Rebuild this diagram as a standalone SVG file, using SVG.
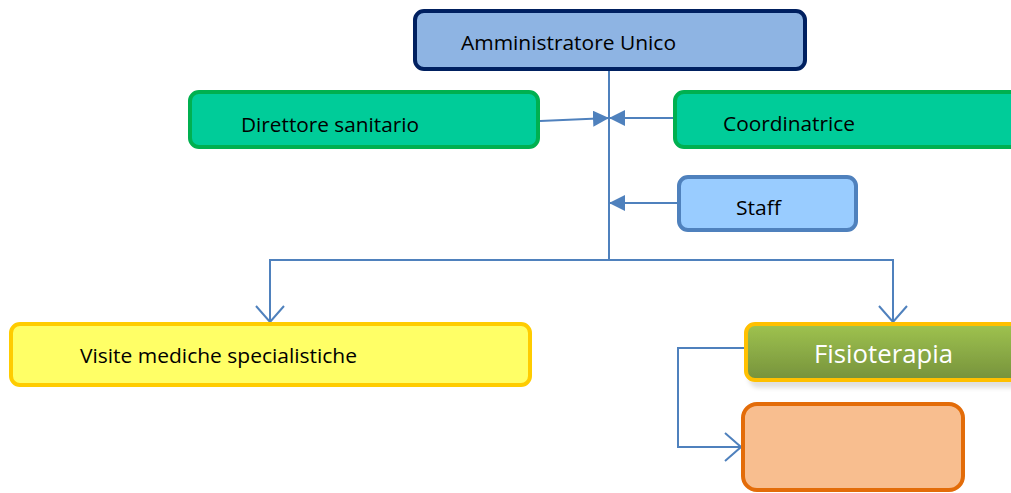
<svg xmlns="http://www.w3.org/2000/svg" width="1011" height="493" viewBox="0 0 1011 493">
<defs>
<style>
text{font-family:"Open Sans","Noto Sans","Liberation Sans",sans-serif;font-size:20px;fill:#000}
.c{fill:none;stroke:#4F81BD;stroke-width:2}
.box{stroke-width:4}
</style>
<linearGradient id="g" x1="0" y1="0" x2="0" y2="1">
<stop offset="0" stop-color="#9FC34F"/>
<stop offset="1" stop-color="#76923C"/>
</linearGradient>
<marker id="fa" viewBox="0 0 16 16" refX="16" refY="8" markerWidth="16" markerHeight="16" markerUnits="userSpaceOnUse" orient="auto">
<path d="M0,0 L16,8 L0,16 Z" fill="#4F81BD"/>
</marker>
<marker id="oa" viewBox="0 0 18 30" refX="17" refY="15" markerWidth="18" markerHeight="30" markerUnits="userSpaceOnUse" orient="auto">
<path d="M1,1 L17,15 L1,29" fill="none" stroke="#4F81BD" stroke-width="2"/>
</marker>
<filter id="sh" x="-5%" y="-5%" width="110%" height="130%">
<feDropShadow dx="4" dy="6" stdDeviation="2" flood-color="#000" flood-opacity="0.12"/>
</filter>
</defs>
<g id="connectors">
<line class="c" x1="609" y1="70" x2="609" y2="260"/>
<line class="c" x1="540" y1="121" x2="609" y2="118" marker-end="url(#fa)"/>
<line class="c" x1="674" y1="118" x2="609" y2="118" marker-end="url(#fa)"/>
<line class="c" x1="677" y1="203" x2="609" y2="203" marker-end="url(#fa)"/>
<polyline class="c" points="609,260 270,260 270,322" marker-end="url(#oa)"/>
<polyline class="c" points="609,260 893,260 893,322" marker-end="url(#oa)"/>
<polyline class="c" points="745,348 678,348 678,447 741,447" marker-end="url(#oa)"/>
</g>
<g id="amministratore">
<rect class="box" x="415" y="11" width="390" height="58" rx="9" fill="#8EB4E3" stroke="#002060"/>
<text x="461" y="50" textLength="215" lengthAdjust="spacingAndGlyphs">Amministratore Unico</text>
</g>
<g id="direttore">
<rect class="box" x="190" y="92" width="348" height="55" rx="9" fill="#00CC99" stroke="#00B050"/>
<text x="241" y="132" textLength="178" lengthAdjust="spacingAndGlyphs">Direttore sanitario</text>
</g>
<g id="coordinatrice">
<rect class="box" x="675" y="92" width="350" height="55" rx="9" fill="#00CC99" stroke="#00B050"/>
<text x="723" y="131" textLength="132" lengthAdjust="spacingAndGlyphs">Coordinatrice</text>
</g>
<g id="staff">
<rect class="box" x="679" y="177" width="177" height="53" rx="9" fill="#99CCFF" stroke="#4F81BD"/>
<text x="736" y="215" textLength="45" lengthAdjust="spacingAndGlyphs">Staff</text>
</g>
<g id="visite">
<rect class="box" x="11" y="324" width="519" height="61" rx="9" fill="#FFFF66" stroke="#FFCC00"/>
<text x="80" y="363" textLength="277" lengthAdjust="spacingAndGlyphs">Visite mediche specialistiche</text>
</g>
<g id="fisioterapia">
<rect class="box" x="746" y="324" width="280" height="56" rx="9" fill="url(#g)" stroke="#FFC000" filter="url(#sh)"/>
<text x="814" y="363" textLength="139" lengthAdjust="spacingAndGlyphs" style="font-size:25px;fill:#fff">Fisioterapia</text>
</g>
<g id="vuoto">
<rect class="box" x="743" y="404" width="220" height="86" rx="14" fill="#F8BE8F" stroke="#E36C09"/>
</g>
</svg>
